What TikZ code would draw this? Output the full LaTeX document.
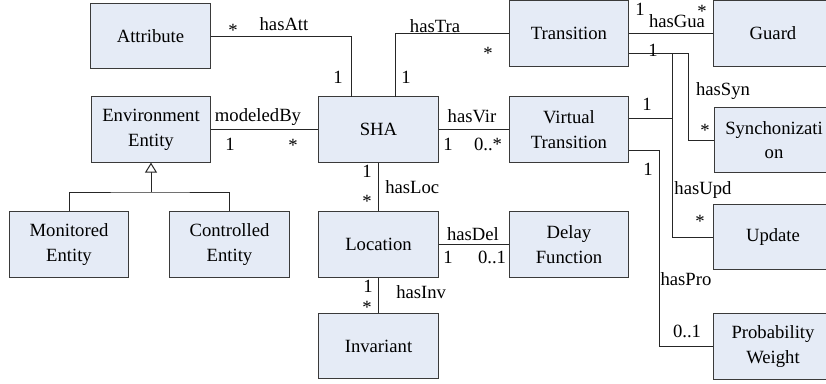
\documentclass[tikz,border=0pt]{standalone}
\usepackage{fontspec}
\setmainfont{Liberation Serif}
\usetikzlibrary{arrows.meta}
\definecolor{boxfill}{HTML}{E5EBF6}
\definecolor{boxline}{HTML}{3A3A3A}
\newcommand\diagfont{\fontsize{14pt}{18.5pt}\selectfont\rmfamily}
\begin{document}
\begin{tikzpicture}[x=0.75pt, y=-0.75pt,
  txt/.style={font=\diagfont},
  cls/.style={txt, draw=boxline, fill=boxfill, line width=0.8pt, rectangle,
    minimum width=89.4pt, minimum height=48.9pt, inner sep=0pt, align=center},
  conn/.style={draw=black!85, line width=0.75pt},
  lbl/.style={txt, anchor=base, inner sep=0pt},
  lblw/.style={txt, anchor=base west, inner sep=0pt}]
\path[use as bounding box] (0,0) rectangle (826,383);
\clip (0,0) rectangle (826,383);

% classes
\node[cls] (attr)   at (150.5,36)   {Attribute};
\node[cls] (env)    at (151,129.5)  {Environment\\Entity};
\node[cls] (sha)    at (378.5,129.5){SHA};
\node[cls] (tra)    at (569,33.5)   {Transition};
\node[cls] (guard)  at (773,33.5)   {Guard};
\node[cls] (vt)     at (569,129.5)  {Virtual\\Transition};
\node[cls] (sync)   at (774,140)    {Synchonizati\\on};
\node[cls] (loc)    at (378.5,244.5){Location};
\node[cls] (delay)  at (569,244.5)  {Delay\\Function};
\node[cls] (update) at (773,237)    {Update};
\node[cls] (prob)   at (773,346.5)  {Probability\\Weight};
\node[cls] (inv)    at (378.5,346)  {Invariant};
\node[cls] (mon)    at (69,244.5)   {Monitored\\Entity};
\node[cls] (ctrl)   at (229.5,244.5){Controlled\\Entity};

% bend and junction points
\coordinate (attV) at (351,97);
\coordinate (traV) at (395,97);
\coordinate (traS) at (629,53);
\coordinate (synB) at (688,140);
\coordinate (updB) at (672,237);
\coordinate (vtU)  at (629,118);
\coordinate (updJ) at (672,118);
\coordinate (vtP)  at (629,150);
\coordinate (proB) at (659,346.5);
\coordinate (inhJ) at (151,192);

% associations
\draw[conn] (attr.east) -| (attV);
\draw[conn] (traV) |- (tra.west);
\draw[conn] (env.east) -- (sha.west);
\draw[conn] (sha.east) -- (vt.west);
\draw[conn] (sha.south) -- (loc.north);
\draw[conn] (loc.south) -- (inv.north);
\draw[conn] (loc.east) -- (delay.west);
\draw[conn] (tra.east) -- (guard.west);
\draw[conn] (traS) -| (synB) -- (sync.west);
\draw[conn] (traS) -| (updB) -- (update.west);
\draw[conn] (vtU) -- (updJ);
\draw[conn] (vtP) -| (proB) -- (prob.west);

% generalization
\draw[conn] (mon.north) |- (inhJ) -| (ctrl.north);
\draw[conn, -{Triangle[open, length=7.5pt, width=9pt, fill=white]}] (inhJ) -- (env.south);

% labels
\node[lbl] at (233,36) {*};
\node[lbl] at (284,30) {hasAtt};
\node[lbl] at (338,83) {1};
\node[lbl] at (406,83) {1};
\node[lbl] at (435,32) {hasTra};
\node[lbl] at (488,59) {*};
\node[lbl] at (258,121) {modeledBy};
\node[lbl] at (230,150) {1};
\node[lbl] at (293,151) {*};
\node[lbl] at (472,122) {hasVir};
\node[lbl] at (448,150) {1};
\node[lbl] at (488,150) {0..*};
\node[lbl] at (367,177) {1};
\node[lblw] at (385,193) {hasLoc};
\node[lbl] at (367,207) {*};
\node[lbl] at (368,292) {1};
\node[lbl] at (367,313) {*};
\node[lblw] at (396,298) {hasInv};
\node[lbl] at (473,240) {hasDel};
\node[lbl] at (448,263) {1};
\node[lbl] at (492,263) {0..1};
\node[lbl] at (640,15) {1};
\node[lbl] at (677,27) {hasGua};
\node[lbl] at (702,17) {*};
\node[lbl] at (653,56) {1};
\node[lbl] at (723,95) {hasSyn};
\node[lbl] at (705,136) {*};
\node[lbl] at (647,110) {1};
\node[lbl] at (648,175) {1};
\node[lbl] at (703,194) {hasUpd};
\node[lbl] at (700,227) {*};
\node[lbl] at (686,285) {hasPro};
\node[lbl] at (687,337) {0..1};
\end{tikzpicture}
\end{document}
